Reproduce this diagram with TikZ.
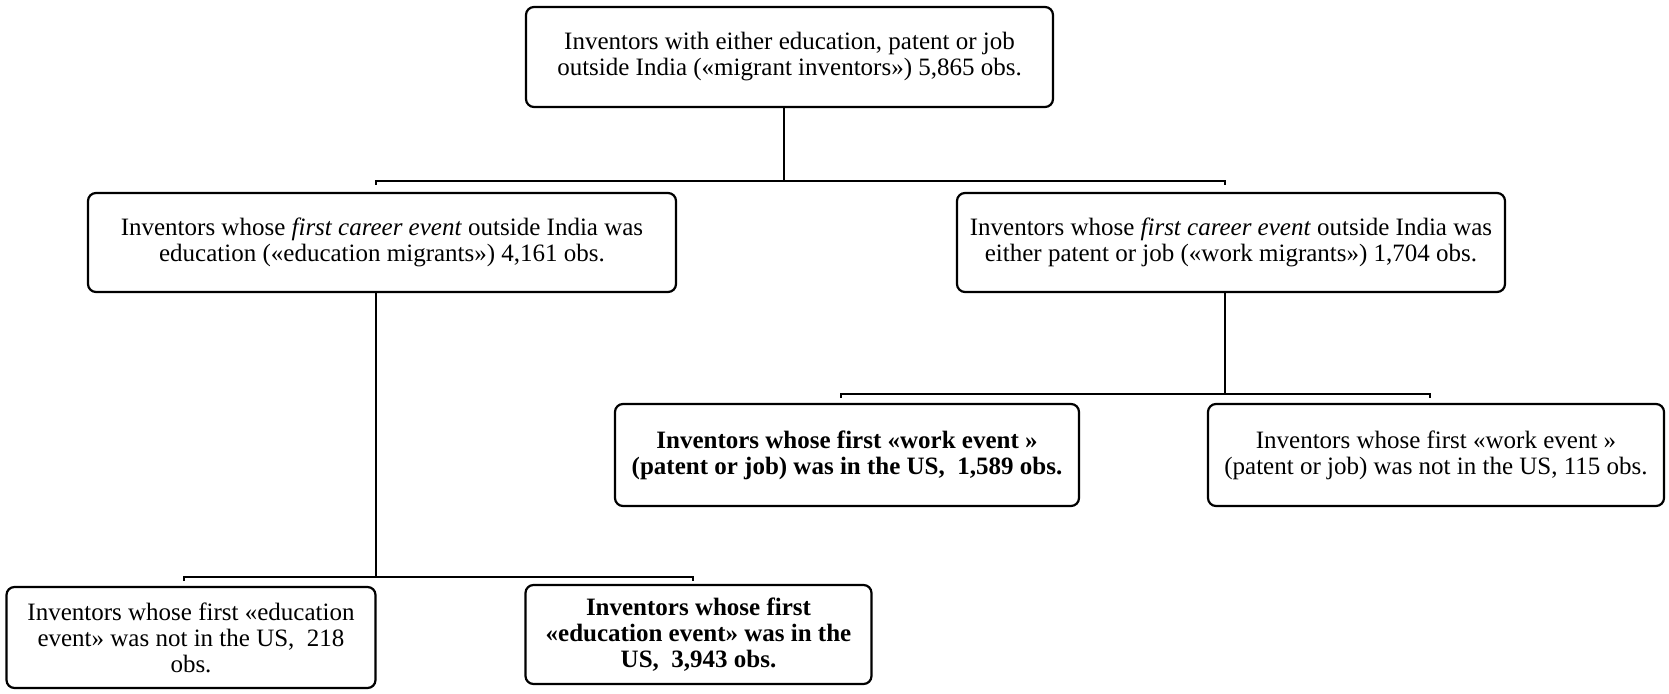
\documentclass[tikz,border=0pt]{standalone}
\usepackage{fontspec}
\setmainfont{Liberation Serif}

\begin{document}
\begin{tikzpicture}[x=0.5pt,y=-0.5pt,
  box/.style={draw,line width=1.1pt,rounded corners=4pt,align=center,inner sep=0pt,
    font=\fontsize{12.5}{13}\selectfont},
  link/.style={line width=1.1pt}]
\useasboundingbox (0,0) rectangle (1669,694);
            % Boxes
\node[box,minimum width=263.5pt,minimum height=50pt] (mig) at (789.5,57)
  {Inventors with either education, patent or job\\outside India («migrant inventors») 5,865 obs.};
\node[box,minimum width=294pt,minimum height=49.5pt] (edu) at (382,242.5)
  {Inventors whose \textit{first career event} outside India was\\education («education migrants») 4,161 obs.};
\node[box,minimum width=274pt,minimum height=49.5pt] (work) at (1231,242.5)
  {Inventors whose \textit{first career event} outside India was\\either patent or job («work migrants») 1,704 obs.};
\node[box,minimum width=232pt,minimum height=51pt] (workUS) at (847,455)
  {\bfseries Inventors whose first «work event »\\\bfseries (patent or job) was in the US,~ 1,589 obs.};
\node[box,minimum width=228pt,minimum height=51pt] (workNo) at (1436,455)
  {Inventors whose first «work event »\\(patent or job) was not in the US, 115 obs.};
\node[box,minimum width=184.5pt,minimum height=50.5pt] (eduNo) at (191,637.5)
  {Inventors whose first «education\\event» was not in the US,~ 218\\obs.};
\node[box,minimum width=173pt,minimum height=49.5pt] (eduUS) at (698.5,634.5)
  {\bfseries Inventors whose first\\\bfseries «education event» was in the\\\bfseries US,~ 3,943 obs.};
%Joints
\coordinate (b1) at (784,181);
\coordinate (b1l) at (376,181);
\coordinate (b1r) at (1225,181);
\coordinate (b2) at (376,577);
\coordinate (b2l) at (184,577);
\coordinate (b2r) at (693,577);
\coordinate (b3) at (1225,394);
\coordinate (b3l) at (841,394);
\coordinate (b3r) at (1430,394);
%Links
\draw[link] (mig.south -| b1) -- (b1);
\draw[link] ([yshift=-2pt]b1l) -- (b1l) -- (b1r) -- ([yshift=-2pt]b1r);
\draw[link] (edu.south -| b2) -- (b2);
\draw[link] ([yshift=-2pt]b2l) -- (b2l) -- (b2r) -- ([yshift=-2pt]b2r);
\draw[link] (work.south -| b3) -- (b3);
\draw[link] ([yshift=-2pt]b3l) -- (b3l) -- (b3r) -- ([yshift=-2pt]b3r);

\end{tikzpicture}
\end{document}
